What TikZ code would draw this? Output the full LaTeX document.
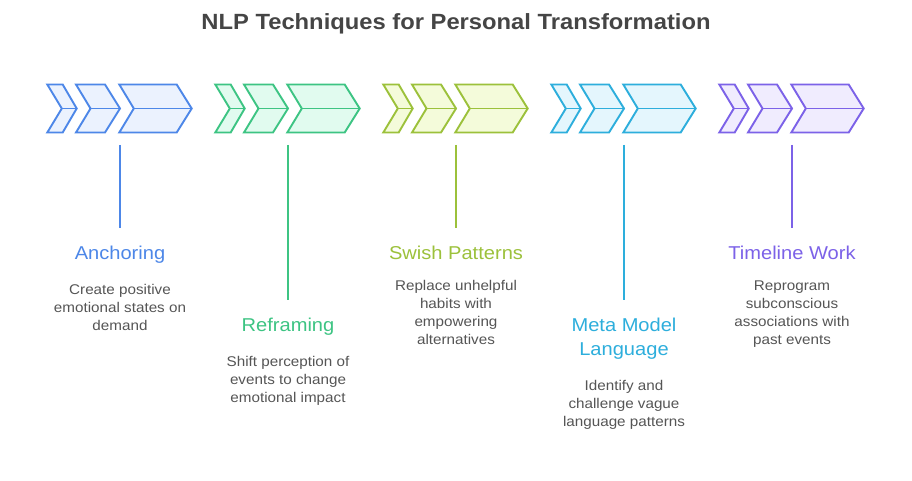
\documentclass[tikz,border=0pt]{standalone}
\usepackage{fontspec}
\setmainfont{Liberation Sans}[FakeStretch=1.08]
\definecolor{cblue}{HTML}{4D87E8}
\definecolor{fblue}{HTML}{EBF2FE}
\definecolor{cgreen}{HTML}{3DC483}
\definecolor{fgreen}{HTML}{E1FBEF}
\definecolor{clime}{HTML}{9CC13B}
\definecolor{flime}{HTML}{F4FBDA}
\definecolor{ccyan}{HTML}{2DAEDC}
\definecolor{fcyan}{HTML}{E4F6FD}
\definecolor{cpurple}{HTML}{7C62E8}
\definecolor{fpurple}{HTML}{F0ECFE}
\definecolor{titlegray}{HTML}{454545}
\definecolor{descgray}{HTML}{555555}
\tikzset{
  chev/.style={line width=1.9pt, line join=miter},
  stem/.style={line width=1.6pt},
  titletext/.style={font=\fontsize{22}{26}\selectfont\bfseries, text=titlegray, inner sep=0pt, anchor=base},
  labeltext/.style={font=\fontsize{18.6}{24}\selectfont, inner sep=0pt, anchor=base, align=center},
  desctext/.style={font=\fontsize{14.1}{18}\selectfont, text=descgray, inner sep=0pt, anchor=north, align=center},
}
\newcommand{\onechev}[4]{% L R T color-prefix
  \filldraw[chev, draw=c#4, fill=f#4] (#1,84.5) -- (#2,84.5) -- (#3,108.5) -- (#2,132.5) -- (#1,132.5) -- ({#1+14.5},108.5) -- cycle;
  \draw[chev, draw=c#4] ({#1+14.5},108.5) -- (#3,108.5);
}
\newcommand{\chevgrp}[2]{% center, color
  \onechev{#1-72.7}{#1-57.3}{#1-43.3}{#2}
  \onechev{#1-44}{#1-15}{#1}{#2}
  \onechev{#1-0.7}{#1+56.7}{#1+71.7}{#2}
}
\begin{document}
\begin{tikzpicture}[x=1pt,y=-1pt]
\useasboundingbox (0,0) rectangle (912,481);
\fill[white] (0,0) rectangle (912,481);
\node[titletext] (title) at (456,29.3) {NLP Techniques for Personal Transformation};

\chevgrp{120}{blue}
\chevgrp{288}{green}
\chevgrp{456}{lime}
\chevgrp{624}{cyan}
\chevgrp{792}{purple}

% stems
\coordinate (s1t) at (120,145); \coordinate (s1b) at (120,228);
\coordinate (s2t) at (288,145); \coordinate (s2b) at (288,300);
\coordinate (s3t) at (456,145); \coordinate (s3b) at (456,228);
\coordinate (s4t) at (624,145); \coordinate (s4b) at (624,300);
\coordinate (s5t) at (792,145); \coordinate (s5b) at (792,228);
\draw[stem, cblue] (s1t) -- (s1b);
\draw[stem, cgreen] (s2t) -- (s2b);
\draw[stem, clime] (s3t) -- (s3b);
\draw[stem, ccyan] (s4t) -- (s4b);
\draw[stem, cpurple] (s5t) -- (s5b);

% labels
\node[labeltext, text=cblue] (l1) at (120,259.3) {Anchoring};
\node[labeltext, text=cgreen] (l2) at (288,331.7) {Reframing};
\node[labeltext, text=clime] (l3) at (456,259.3) {Swish Patterns};
\node[labeltext, text=ccyan] (l4a) at (624,331.7) {Meta Model};
\node[labeltext, text=ccyan] (l4b) at (624,355.3) {Language};
\node[labeltext, text=cpurple] (l5) at (792,259.3) {Timeline Work};

% descriptions
\node[desctext] (d1) at (120,284) {Create positive\\emotional states on\\demand};
\node[desctext] (d2) at (288,356) {Shift perception of\\events to change\\emotional impact};
\node[desctext] (d3) at (456,280.5) {Replace unhelpful\\habits with\\empowering\\alternatives};
\node[desctext] (d4) at (624,380) {Identify and\\challenge vague\\language patterns};
\node[desctext] (d5) at (792,280.5) {Reprogram\\subconscious\\associations with\\past events};
\end{tikzpicture}
\end{document}
